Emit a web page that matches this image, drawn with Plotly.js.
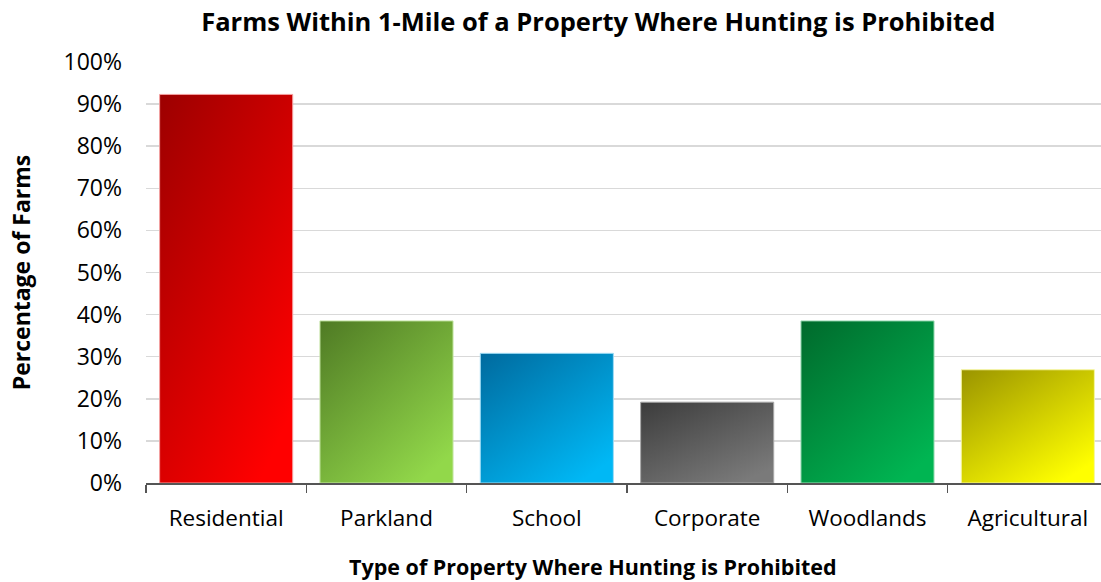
<!DOCTYPE html>
<html>
<head>
<meta charset="utf-8">
<script src="https://cdn.plot.ly/plotly-3.0.1.min.js"></script>
<style>
html,body{margin:0;padding:0;background:#fff;overflow:hidden;width:1101px;height:582px;}
#chart{width:1112px;height:582px;}
</style>
</head>
<body>
<div id="chart"></div>
<script>
const categories = ["Residential", "Parkland", "School", "Corporate", "Woodlands", "Agricultural"];
const percentages = [0.923, 0.385, 0.308, 0.192, 0.385, 0.269];
const darkColors = ["#9c0000", "#4f7a24", "#006a9e", "#3c3c3c", "#006a2c", "#9a9400"];
const brightColors = ["#ff0000", "#92d84a", "#00b8f5", "#7a7a7a", "#00b552", "#ffff00"];
const edgeColors = ["#f4a0a0", "#c6e6a6", "#9fdcf5", "#a8a8a8", "#9fdcb8", "#f6f6a0"];
const yTickVals = [0, 0.1, 0.2, 0.3, 0.4, 0.5, 0.6, 0.7, 0.8, 0.9, 1.0];
const yTickText = ["0%", "10%", "20%", "30%", "40%", "50%", "60%", "70%", "80%", "90%", "100%"];
const xTitle = "Type of Property Where Hunting is Prohibited";

const FONT = "'Open Sans', 'Noto Sans', sans-serif";

const trace = {
  type: "bar",
  x: categories,
  y: percentages,
  marker: {color: brightColors, line: {color: edgeColors, width: 1}},
  hoverinfo: "x+y"
};

const layout = {
  width: 1112,
  height: 582,
  margin: {l: 146, r: 4, t: 62, b: 99},
  paper_bgcolor: "#ffffff",
  plot_bgcolor: "#ffffff",
  bargap: 0.17,
  showlegend: false,
  title: {
    text: "<b>Farms Within 1-Mile of a Property Where Hunting is Prohibited</b>",
    font: {family: FONT, size: 25.5, color: "#000000"},
    x: 0.538, xanchor: "center", y: 0.962, yanchor: "middle"
  },
  annotations: [{
    text: "<b>" + xTitle + "</b>",
    xref: "paper", yref: "paper",
    x: 0.4647, y: -0.1985,
    xanchor: "center", yanchor: "middle",
    showarrow: false,
    font: {family: FONT, size: 21.5, color: "#000000"}
  }],
  xaxis: {
    type: "category",
    tickson: "boundaries",
    ticks: "outside",
    ticklen: 8,
    tickwidth: 1.5,
    tickcolor: "#555555",
    showline: true,
    linecolor: "#555555",
    linewidth: 2,
    showgrid: false,
    tickfont: {family: FONT, size: 22.5, color: "#000000"},
    ticklabelstandoff: 14
  },
  yaxis: {
    range: [0, 1.0],
    tickvals: yTickVals,
    ticktext: yTickText,
    showgrid: true,
    gridcolor: "#d9d9d9",
    gridwidth: 1.5,
    zeroline: false,
    showline: false,
    ticks: "",
    tickfont: {family: FONT, size: 23, color: "#000000"},
    ticklabelstandoff: 23,
    title: {text: "<b>Percentage of Farms</b>", font: {family: FONT, size: 23, color: "#000000"}, standoff: 26}
  }
};

function applyGradients(gd) {
  const svg = gd.querySelector("svg.main-svg");
  if (!svg) return;
  let defs = svg.querySelector("defs#bargrads");
  if (!defs) {
    defs = document.createElementNS("http://www.w3.org/2000/svg", "defs");
    defs.setAttribute("id", "bargrads");
    svg.insertBefore(defs, svg.firstChild);
    categories.forEach((c, i) => {
      const g = document.createElementNS("http://www.w3.org/2000/svg", "linearGradient");
      g.setAttribute("id", "bgrad" + i);
      g.setAttribute("x1", "0"); g.setAttribute("y1", "0");
      g.setAttribute("x2", "0.75"); g.setAttribute("y2", "1");
      const s1 = document.createElementNS("http://www.w3.org/2000/svg", "stop");
      s1.setAttribute("offset", "0"); s1.setAttribute("stop-color", darkColors[i]);
      const s2 = document.createElementNS("http://www.w3.org/2000/svg", "stop");
      s2.setAttribute("offset", "1"); s2.setAttribute("stop-color", brightColors[i]);
      g.appendChild(s1); g.appendChild(s2);
      defs.appendChild(g);
    });
  }
  const paths = gd.querySelectorAll(".barlayer .point path");
  paths.forEach((p, i) => {
    p.style.fill = "url(#bgrad" + i + ")";
  });
}

const gd = document.getElementById("chart");
Plotly.newPlot(gd, [trace], layout, {displayModeBar: false, staticPlot: true}).then(() => {
  applyGradients(gd);
  gd.on("plotly_afterplot", () => applyGradients(gd));
});
</script>
</body>
</html>
